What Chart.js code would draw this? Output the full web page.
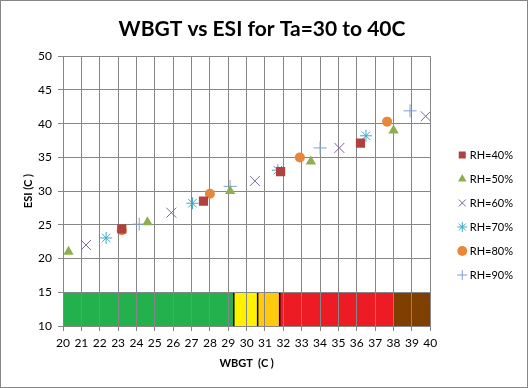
<!DOCTYPE html>
<html>
<head>
<meta charset="utf-8">
<script src="https://cdn.jsdelivr.net/npm/chart.js"></script>
<style>
  html, body { margin: 0; padding: 0; background: #fff; }
</style>
</head>
<body>
<canvas id="c" width="528" height="388"></canvas>
<script>
// values: WBGT (x) against ESI (y), one pair of arrays per RH
const rh40x = [23.2, 27.65, 31.85, 36.2];
const rh40y = [24.4, 28.5, 32.9, 37.1];
const rh50x = [20.3, 24.6, 29.1, 33.5, 38.0];
const rh50y = [21.0, 25.4, 30.0, 34.4, 39.0];
const rh60x = [21.25, 25.9, 30.45, 35.05, 39.75];
const rh60y = [22.0, 26.8, 31.5, 36.4, 41.1];
const rh70x = [22.35, 27.05, 31.7, 36.5];
const rh70y = [23.05, 28.2, 33.1, 38.2];
const rh80x = [23.2, 28.0, 32.9, 37.65];
const rh80y = [24.2, 29.6, 35.0, 40.3];
const rh90x = [24.15, 29.1, 34.0, 38.9];
const rh90y = [25.1, 30.7, 36.4, 41.9];

const seriesNames = ['RH=40%', 'RH=50%', 'RH=60%', 'RH=70%', 'RH=80%', 'RH=90%'];

// heat-stress band along the bottom (ESI 10..15)
const zoneEdges = [20, 29.3, 30.6, 31.8, 38, 40];
const zoneColors = ['#22b14c', '#fff200', '#ffc90e', '#ed1c24', '#7f3f00'];
const zoneLow = 10, zoneHigh = 15;
const outlinedEdges = [29.3, 30.6, 31.8];

const FONT = 'Lato';

function pts(xs, ys) { return xs.map((x, i) => ({ x: x, y: ys[i] })); }

const zonePlugin = {
  id: 'zones',
  beforeDraw(chart) {
    const ctx = chart.ctx, x = chart.scales.x, y = chart.scales.y;
    ctx.save();
    ctx.fillStyle = '#fff';
    ctx.fillRect(0, 0, chart.width, chart.height);
    const top = y.getPixelForValue(zoneHigh), bot = y.getPixelForValue(zoneLow);
    for (let i = 0; i < zoneColors.length; i++) {
      const l = x.getPixelForValue(zoneEdges[i]), r = x.getPixelForValue(zoneEdges[i + 1]);
      ctx.fillStyle = zoneColors[i];
      ctx.fillRect(l, top, r - l, bot - top);
    }
    ctx.strokeStyle = '#000';
    ctx.lineWidth = 1.5;
    outlinedEdges.forEach(v => {
      const px = x.getPixelForValue(v);
      ctx.beginPath(); ctx.moveTo(px, top); ctx.lineTo(px, bot); ctx.stroke();
    });
    ctx.restore();
  },
  afterDraw(chart) {
    const ctx = chart.ctx;
    ctx.save();
    ctx.strokeStyle = '#868686';
    ctx.lineWidth = 1;
    ctx.strokeRect(0.5, 0.5, chart.width - 1, chart.height - 1);
    ctx.restore();
  }
};

// nudge the legend block right/down a little, like the original
const legendShift = {
  id: 'legendShift',
  afterLayout(chart) {
    const lg = chart.legend;
    const dx = chart.chartArea.right + 17 - lg.left;
    lg.left += dx;
    lg.right += dx;
    lg.top += 29;
    lg.bottom += 29;
  }
};

const ds = (i, xs, ys, style, color, r, bw) => ({
  label: seriesNames[i],
  data: pts(xs, ys),
  pointStyle: style,
  pointRadius: r,
  pointHoverRadius: r,
  pointBackgroundColor: color,
  pointBorderColor: color,
  pointBorderWidth: bw,
  backgroundColor: color,
  borderColor: color,
  borderWidth: bw,
  showLine: false
});

new Chart(document.getElementById('c'), {
  type: 'scatter',
  data: {
    datasets: [
      ds(0, rh40x, rh40y, 'rect', '#b0413e', 6.5, 0),
      ds(1, rh50x, rh50y, 'triangle', '#8faf4e', 6, 0),
      ds(2, rh60x, rh60y, 'crossRot', '#8064a2', 7, 1),
      ds(3, rh70x, rh70y, 'star', '#3fa9c5', 6, 1),
      ds(4, rh80x, rh80y, 'circle', '#e8873a', 5, 0),
      ds(5, rh90x, rh90y, 'cross', '#7f9fd3', 6.5, 1)
    ]
  },
  options: {
    responsive: false,
    animation: false,
    layout: { padding: { left: 18, right: 22, top: 0, bottom: 16 } },
    plugins: {
      title: {
        display: true,
        text: 'WBGT vs ESI for Ta=30 to 40C',
        color: '#000',
        font: { family: FONT, size: 21, weight: 'bold' },
        padding: { top: 17, bottom: 14 }
      },
      legend: {
        position: 'right',
        labels: {
          usePointStyle: true,
          boxWidth: 4,
          boxHeight: 7,
          padding: 13,
          color: '#000',
          font: { family: FONT, size: 11 }
        }
      },
      tooltip: { enabled: false }
    },
    scales: {
      x: {
        type: 'linear',
        min: 20, max: 40,
        afterFit(s) { s.height = 46; },
        grid: { color: '#868686', lineWidth: 1, tickLength: 5, tickColor: '#868686' },
        border: { color: '#868686' },
        ticks: { stepSize: 1, autoSkip: false, maxRotation: 0, padding: 5, color: '#000', font: { family: FONT, size: 12 } },
        title: { display: true, text: 'WBGT  (C )', color: '#000', font: { family: FONT, size: 11, weight: 'bold' }, padding: { top: 4, bottom: 2 } }
      },
      y: {
        type: 'linear',
        min: 10, max: 50,
        afterFit(s) { s.width = 45; },
        grid: { color: '#868686', lineWidth: 1, tickLength: 5, tickColor: '#868686' },
        border: { color: '#868686' },
        ticks: { stepSize: 5, padding: 6, color: '#000', font: { family: FONT, size: 12 } },
        title: { display: true, text: 'ESI (C )', color: '#000', font: { family: FONT, size: 11, weight: 'bold' }, padding: { top: 4, bottom: 2 } }
      }
    }
  },
  plugins: [zonePlugin, legendShift]
});
</script>
</body>
</html>
